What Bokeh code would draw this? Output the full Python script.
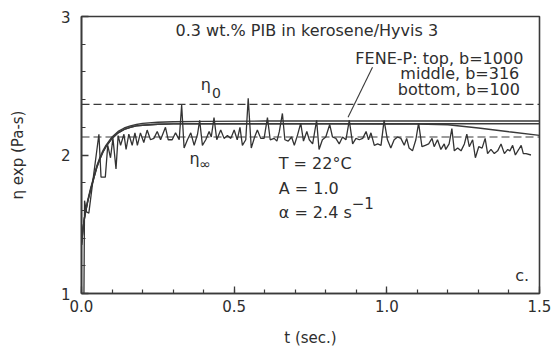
from bokeh.plotting import figure
from bokeh.models import Label, FixedTicker, NumeralTickFormatter, ColumnDataSource
from bokeh.embed import file_html
from bokeh.resources import INLINE

# ---- data ----
t_exp = [0.008, 0.010, 0.016, 0.024, 0.040, 0.057, 0.064, 0.078, 0.086, 0.095,
         0.103, 0.113, 0.120, 0.128, 0.139, 0.146, 0.155, 0.166, 0.175, 0.183,
         0.193, 0.204, 0.215, 0.226, 0.237, 0.248, 0.259, 0.275, 0.284, 0.297,
         0.308, 0.320, 0.328, 0.336, 0.347, 0.358, 0.369, 0.380, 0.387, 0.396,
         0.407, 0.418, 0.425, 0.434, 0.443, 0.456, 0.467, 0.478, 0.489, 0.500,
         0.510, 0.519, 0.527, 0.538, 0.546, 0.556, 0.567, 0.576, 0.587, 0.598,
         0.609, 0.618, 0.631, 0.640, 0.648, 0.658, 0.666, 0.677, 0.688, 0.697,
         0.707, 0.718, 0.727, 0.738, 0.746, 0.757, 0.770, 0.778, 0.789, 0.800,
         0.813, 0.822, 0.833, 0.844, 0.855, 0.866, 0.877, 0.888, 0.899, 0.910,
         0.921, 0.932, 0.940, 0.948, 0.959, 0.970, 0.981, 0.991, 1.002, 1.013,
         1.024, 1.035, 1.046, 1.057, 1.065, 1.073, 1.084, 1.095, 1.104, 1.115,
         1.126, 1.137, 1.148, 1.155, 1.166, 1.177, 1.188, 1.193, 1.204, 1.213,
         1.221, 1.232, 1.243, 1.254, 1.262, 1.270, 1.281, 1.290, 1.301, 1.312,
         1.322, 1.330, 1.341, 1.352, 1.363, 1.374, 1.385, 1.396, 1.403, 1.412,
         1.421, 1.432, 1.440, 1.447, 1.456, 1.472]
eta_exp = [1.00, 1.67, 1.59, 1.58, 1.86, 2.15, 1.84, 1.84, 2.07, 1.98,
           2.12, 1.90, 2.14, 2.07, 2.15, 2.04, 2.15, 2.07, 2.16, 2.07,
           2.16, 2.09, 2.18, 2.11, 2.12, 2.17, 2.11, 2.20, 2.11, 2.11,
           2.16, 2.11, 2.36, 2.05, 2.11, 2.16, 2.07, 2.15, 2.25, 2.07,
           2.11, 2.17, 2.13, 2.27, 2.11, 2.18, 2.12, 2.14, 2.12, 2.18,
           2.11, 2.20, 2.07, 2.11, 2.41, 2.05, 2.13, 2.18, 2.12, 2.12,
           2.27, 2.11, 2.12, 2.10, 2.17, 2.30, 2.11, 2.10, 2.13, 2.07,
           2.14, 2.23, 2.10, 2.17, 2.11, 2.08, 2.25, 2.04, 2.11, 2.13,
           2.22, 2.13, 2.12, 2.08, 2.13, 2.11, 2.25, 2.08, 2.12, 2.11,
           2.12, 2.17, 2.11, 2.16, 2.07, 2.08, 2.07, 2.25, 2.11, 2.05,
           2.11, 2.13, 2.12, 2.07, 2.12, 2.05, 2.03, 2.11, 2.23, 2.06,
           2.07, 2.08, 2.12, 2.06, 2.11, 2.04, 2.08, 2.04, 2.08, 2.19,
           2.03, 2.05, 2.03, 2.08, 2.15, 2.06, 2.11, 1.98, 2.06, 2.05,
           2.12, 2.01, 2.04, 2.01, 2.03, 2.08, 2.01, 2.04, 2.03, 2.07,
           2.00, 2.04, 2.07, 2.01, 2.01, 2.00]

t_model = [0.0, 0.005, 0.01, 0.02, 0.03, 0.04, 0.05, 0.06, 0.07, 0.08,
           0.10, 0.12, 0.14, 0.16, 0.18, 0.20, 0.25, 0.30, 0.40, 0.60,
           0.80, 1.00, 1.10, 1.20, 1.30, 1.40, 1.50]
eta_top = [1.35, 1.47, 1.55, 1.67, 1.76, 1.84, 1.92, 1.98, 2.03, 2.07,
           2.13, 2.17, 2.195, 2.21, 2.22, 2.228, 2.236, 2.24, 2.243, 2.245,
           2.245, 2.245, 2.245, 2.245, 2.245, 2.245, 2.245]
eta_mid = [1.35, 1.47, 1.55, 1.66, 1.75, 1.83, 1.91, 1.97, 2.02, 2.06,
           2.12, 2.16, 2.185, 2.20, 2.21, 2.215, 2.222, 2.225, 2.226, 2.226,
           2.226, 2.226, 2.226, 2.226, 2.226, 2.226, 2.226]
eta_bot = [1.35, 1.47, 1.55, 1.66, 1.75, 1.83, 1.91, 1.97, 2.02, 2.06,
           2.12, 2.16, 2.185, 2.20, 2.21, 2.215, 2.222, 2.225, 2.226, 2.226,
           2.225, 2.224, 2.223, 2.218, 2.195, 2.168, 2.142]

eta_0 = 2.365
eta_inf = 2.13

x_ticks = [0.0, 0.5, 1.0, 1.5]
y_ticks = [1, 2, 3]

INK = "#3a3a3a"
TXT = "#2e2e2e"
FONT = "DejaVu Sans"

p = figure(width=553, height=349, x_range=(0, 1.5), y_range=(1, 3),
           output_backend="svg", toolbar_location=None,
           min_border_left=81, min_border_right=14, min_border_top=16, min_border_bottom=56)
p.xgrid.visible = False
p.ygrid.visible = False
p.outline_line_color = INK
p.outline_line_width = 1.6
p.background_fill_color = "white"
p.border_fill_color = "white"

# reference lines eta_0, eta_inf
p.line([0, 1.5], [eta_0, eta_0], line_color=INK, line_width=1.2, line_dash="8 4")
p.line([0, 1.5], [eta_inf, eta_inf], line_color=INK, line_width=1.2, line_dash="8 4")

# FENE-P model curves
src_m = ColumnDataSource(dict(t=t_model, top=eta_top, mid=eta_mid, bot=eta_bot))
for col in ("top", "mid", "bot"):
    p.line("t", col, source=src_m, line_color=INK, line_width=1.4)

# experimental data
p.line(t_exp, eta_exp, line_color="#333333", line_width=1.3)

# leader line
p.line([0.953, 0.873], [2.634, 2.273], line_color=INK, line_width=1.1)

# axes
p.xaxis.ticker = FixedTicker(ticks=x_ticks, minor_ticks=[i / 10 for i in range(16)])
p.yaxis.ticker = FixedTicker(ticks=y_ticks, minor_ticks=[1 + i / 5 for i in range(11)])
p.xaxis.formatter = NumeralTickFormatter(format="0.0")
p.yaxis.formatter = NumeralTickFormatter(format="0")
for ax in (p.xaxis, p.yaxis):
    ax.major_tick_in = 7
    ax.major_tick_out = 0
    ax.minor_tick_in = 4
    ax.minor_tick_out = 0
    ax.major_tick_line_color = INK
    ax.minor_tick_line_color = INK
    ax.major_tick_line_width = 1.3
    ax.minor_tick_line_width = 1.2
    ax.axis_line_color = INK
    ax.axis_line_width = 1.6
    ax.major_label_text_font = FONT
    ax.major_label_text_font_size = "15px"
    ax.major_label_text_color = TXT
    ax.axis_label_text_font = FONT
    ax.axis_label_text_font_size = "15px"
    ax.axis_label_text_font_style = "normal"
    ax.axis_label_text_color = TXT

p.xaxis.axis_label = "t (sec.)"
p.xaxis.major_label_standoff = 6
p.xaxis.axis_label_standoff = 14
p.yaxis.axis_label = "η exp (Pa-s)"
p.yaxis.major_label_standoff = 11
p.yaxis.axis_label_standoff = 31


def lab(x, y, text, size="16px", align="left", baseline="middle"):
    p.add_layout(Label(x=x, y=y, text=text, text_font=FONT, text_font_size=size,
                       text_color=TXT, text_align=align, text_baseline=baseline))


lab(0.738, 2.899, "0.3 wt.% PIB in kerosene/Hyvis 3", align="center")
lab(1.172, 2.697, "FENE-P: top, b=1000", align="center")
lab(1.239, 2.590, "middle, b=316", align="center")
lab(1.236, 2.476, "bottom, b=100", align="center")
lab(0.407, 2.509, "η", size="16px", align="center")
lab(0.442, 2.448, "0", size="14px", align="center")
lab(0.370, 1.975, "η", size="16px", align="center")
lab(0.405, 1.935, "∞", size="14px", align="center")
lab(0.646, 1.939, "T = 22°C")
lab(0.646, 1.758, "A = 1.0")
lab(0.646, 1.585, "α = 2.4 s")
lab(0.885, 1.650, "−1", size="15px")
lab(1.443, 1.130, "c.", align="center")

open("out.html", "w").write(file_html(p, INLINE))
